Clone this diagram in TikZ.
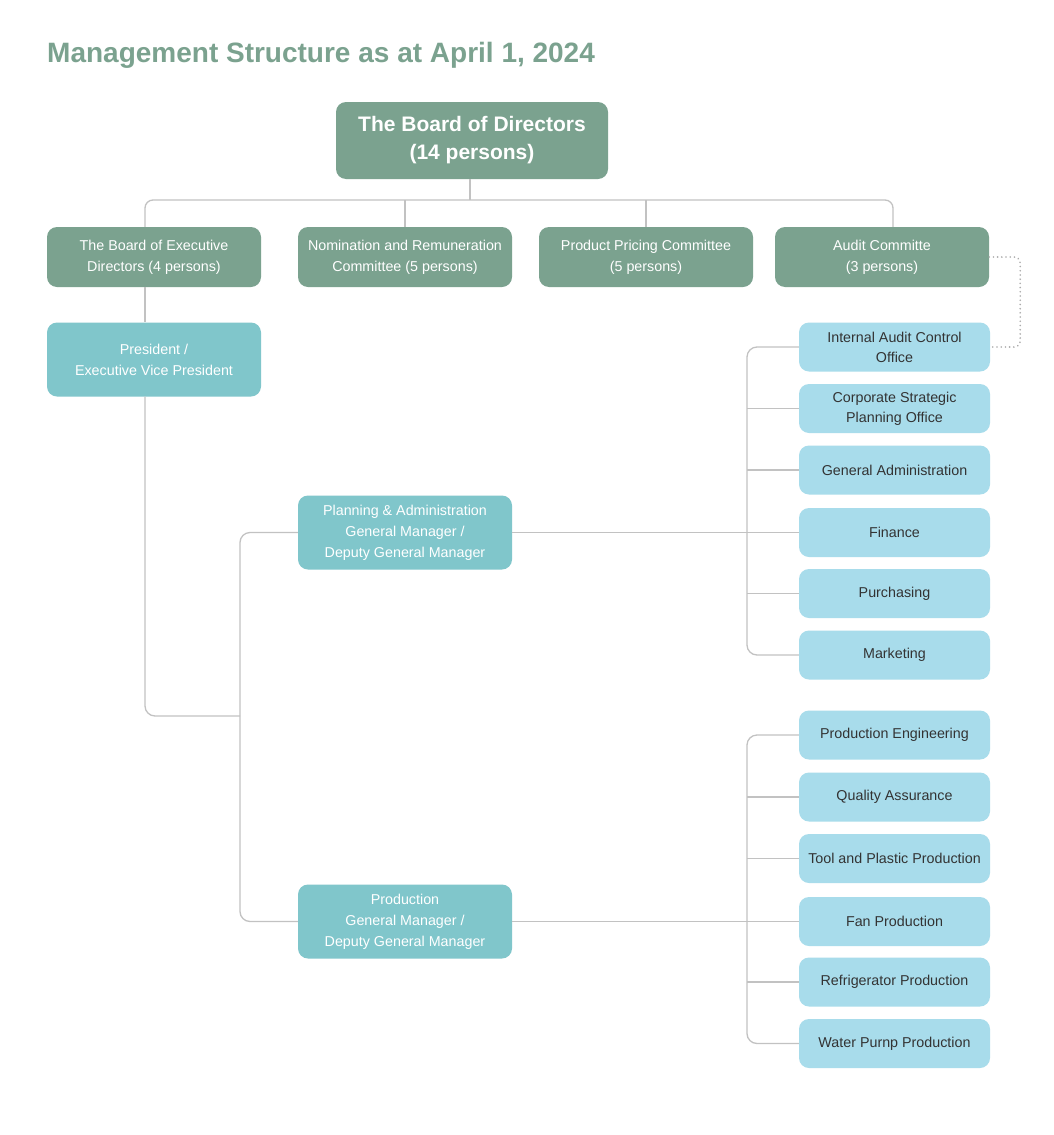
\documentclass[tikz,border=0pt]{standalone}
\usepackage{fontspec}
\setmainfont{Liberation Sans}
\usetikzlibrary{positioning}
\definecolor{sage}{HTML}{7BA28F}
\definecolor{teal}{HTML}{80C6CB}
\definecolor{sky}{HTML}{A8DCEB}
\definecolor{linegray}{HTML}{C2C2C2}
\definecolor{dotgray}{HTML}{ABABAB}
\definecolor{dark}{HTML}{333333}
\tikzset{
  box/.style={rectangle, rounded corners=10pt, inner sep=0pt, align=center},
  greenbox/.style={box, fill=sage, text=white, minimum width=214pt, minimum height=60pt, font=\fontsize{14.3}{21}\selectfont},
  tealbox/.style={box, fill=teal, text=white, minimum width=214pt, minimum height=74pt, font=\fontsize{14.3}{21}\selectfont},
  bluebox/.style={box, fill=sky, text=dark, minimum width=191pt, minimum height=49pt, font=\fontsize{14.3}{20}\selectfont},
  conn/.style={draw=linegray, line width=1.3pt},
  rc/.style={rounded corners=10pt},
}
\begin{document}
\begin{tikzpicture}[x=1pt,y=-1pt]
\useasboundingbox[fill=white] (0,0) rectangle (1054,1135);
\node[anchor=base west, text=sage, font=\fontsize{28}{32}\selectfont\bfseries, inner sep=0pt] (title) at (47,62) {Management Structure as at April 1, 2024};
\node[box, fill=sage, text=white, minimum width=272pt, minimum height=77pt, font=\fontsize{21}{28}\selectfont\bfseries] (board) at (472,140.5) {The Board of Directors\\(14 persons)};
\node[greenbox] (exec) at (154,257) {The Board of Executive\\Directors (4 persons)};
\node[greenbox] (nom) at (405,257) {Nomination and Remuneration\\Committee (5 persons)};
\node[greenbox] (price) at (646,257) {Product Pricing Committee\\(5 persons)};
\node[greenbox] (audit) at (882,257) {Audit Committe\\(3 persons)};
\node[tealbox] (pres) at (154,359.5) {President /\\Executive Vice President};
\node[tealbox] (plan) at (405,532.5) {Planning \& Administration\\General Manager /\\Deputy General Manager};
\node[tealbox] (prod) at (405,921.5) {Production\\General Manager /\\Deputy General Manager};
\node[bluebox] (iac) at (894.5,347) {Internal Audit Control\\Office};
\node[bluebox] (csp) at (894.5,408.5) {Corporate Strategic\\Planning Office};
\node[bluebox] (ga) at (894.5,470) {General Administration};
\node[bluebox] (fin) at (894.5,532.5) {Finance};
\node[bluebox] (pur) at (894.5,593.5) {Purchasing};
\node[bluebox] (mkt) at (894.5,655) {Marketing};
\node[bluebox] (pe) at (894.5,735) {Production Engineering};
\node[bluebox] (qa) at (894.5,797) {Quality Assurance};
\node[bluebox] (tool) at (894.5,858.5) {Tool and Plastic Production};
\node[bluebox] (fan) at (894.5,921.5) {Fan Production};
\node[bluebox] (ref) at (894.5,982) {Refrigerator Production};
\node[bluebox] (wat) at (894.5,1043.5) {Water Purnp Production};
% top bus
\coordinate (bl) at (145,200);
\coordinate (br) at (893,200);
\draw[conn, rounded corners=8pt] ([xshift=-9pt]exec.north) -- (bl) -- (br) -- ([xshift=11pt]audit.north);
\draw[conn] (board.south -| 470,0) -- (470,200);
\draw[conn] (nom.north) -- (nom.north |- bl);
\draw[conn] (price.north) -- (price.north |- bl);
\draw[conn] ([xshift=-9pt]exec.south) -- ([xshift=-9pt]pres.north);
% left tree
\coordinate (jn) at (240,716);
\draw[conn, rc] ([xshift=-9pt]pres.south) |- (jn);
\draw[conn, rc] (plan.west) -| (jn) |- (prod.west);
% right tree 1
\coordinate (v1) at (747,532.5);
\draw[conn, rc] (iac.west) -| (v1) |- (mkt.west);
\draw[conn] (plan.east) -- (fin.west);
\foreach \b in {csp,ga,pur} \draw[conn] (\b.west) -- (\b.west -| v1);
% right tree 2
\coordinate (v2) at (747,921.5);
\draw[conn, rc] (pe.west) -| (v2) |- (wat.west);
\draw[conn] (prod.east) -- (fan.west);
\foreach \b in {qa,tool,ref} \draw[conn] (\b.west) -- (\b.west -| v2);
% dotted audit link
\draw[draw=dotgray, line width=1.8pt, dash pattern=on 0.01pt off 4.2pt, line cap=round, rounded corners=6pt] (audit.east) -- ++(31,0) |- (iac.east);
\end{tikzpicture}
\end{document}
